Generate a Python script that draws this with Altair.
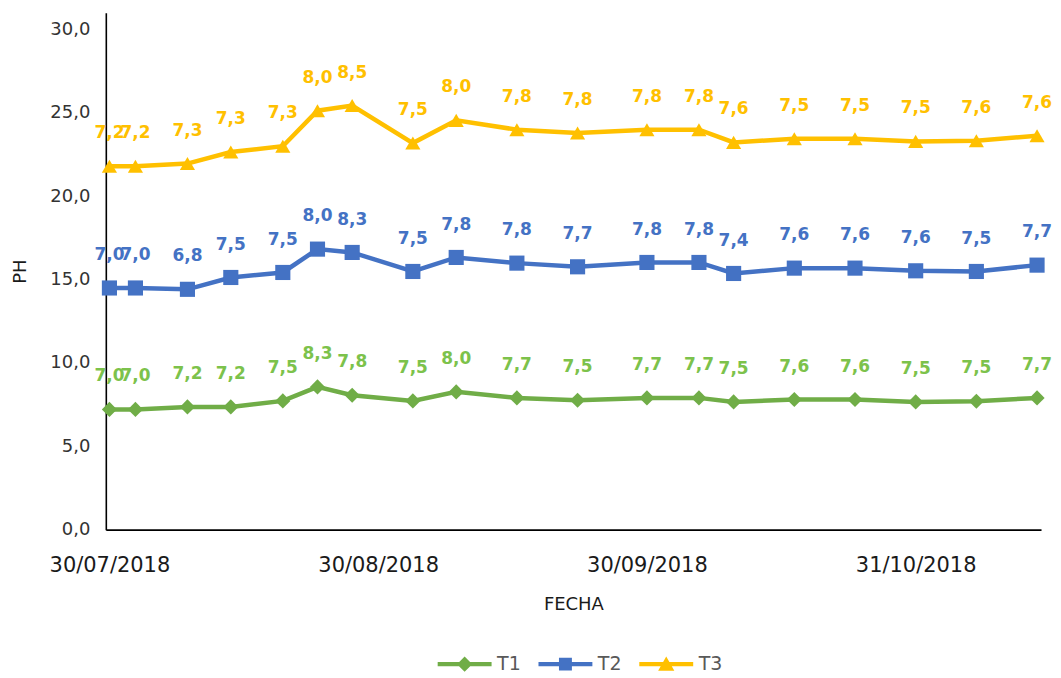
import altair as alt
import pandas as pd

# ---- data ----
dates = ["2018-07-30", "2018-08-02", "2018-08-08", "2018-08-13", "2018-08-19",
         "2018-08-23", "2018-08-27", "2018-09-03", "2018-09-08", "2018-09-15",
         "2018-09-22", "2018-09-30", "2018-10-06", "2018-10-10", "2018-10-17",
         "2018-10-24", "2018-10-31", "2018-11-07", "2018-11-14"]

# plotted (stacked) heights as drawn in the picture
t1_y = [7.21, 7.21, 7.36, 7.36, 7.72, 8.56, 8.06, 7.72, 8.26, 7.90,
        7.76, 7.90, 7.90, 7.66, 7.80, 7.80, 7.66, 7.70, 7.90]
t2_y = [14.49, 14.49, 14.41, 15.12, 15.42, 16.82, 16.62, 15.48, 16.32, 15.98,
        15.76, 16.02, 16.02, 15.36, 15.68, 15.68, 15.52, 15.48, 15.86]
t3_y = [21.79, 21.79, 21.95, 22.64, 22.99, 25.12, 25.43, 23.18, 24.54, 23.98,
        23.78, 23.98, 23.98, 23.22, 23.44, 23.44, 23.28, 23.32, 23.62]

# values shown in the data labels
t1_lbl = [7.0, 7.0, 7.2, 7.2, 7.5, 8.3, 7.8, 7.5, 8.0, 7.7,
          7.5, 7.7, 7.7, 7.5, 7.6, 7.6, 7.5, 7.5, 7.7]
t2_lbl = [7.0, 7.0, 6.8, 7.5, 7.5, 8.0, 8.3, 7.5, 7.8, 7.8,
          7.7, 7.8, 7.8, 7.4, 7.6, 7.6, 7.6, 7.5, 7.7]
t3_lbl = [7.2, 7.2, 7.3, 7.3, 7.3, 8.0, 8.5, 7.5, 8.0, 7.8,
          7.8, 7.8, 7.8, 7.6, 7.5, 7.5, 7.5, 7.6, 7.6]

series = ["T1", "T2", "T3"]
y_ticks = [0, 5, 10, 15, 20, 25, 30]

# ---- styling ----
line_colors = ["#70AD47", "#4472C4", "#FFC000"]
label_colors = ["#7CC24B", "#4472C4", "#FFC000"]
point_shapes = ["diamond", "square", "triangle-up"]
legend_shapes = [
    "M-3,-0.24H3V0.24H-3Z M0,-0.85L0.85,0L0,0.85L-0.85,0Z",
    "M-3,-0.24H3V0.24H-3Z M-0.72,-0.72H0.72V0.72H-0.72Z",
    "M-3,-0.24H3V0.24H-3Z M0,-0.85L0.9,0.75H-0.9Z",
]

rows = []
for s, ys, ls in zip(series, [t1_y, t2_y, t3_y], [t1_lbl, t2_lbl, t3_lbl]):
    for d, y, l in zip(dates, ys, ls):
        rows.append({"fecha": d + "T00:00:00", "series": s, "ph": y, "lbl": l})
df = pd.DataFrame(rows)

FONT = "DejaVu Sans"

x_enc = alt.X(
    "fecha:T",
    title="FECHA",
    scale=alt.Scale(domain=[alt.DateTime(year=2018, month=7, date=29, hours=14),
                            alt.DateTime(year=2018, month=11, date=14, hours=11)]),
    axis=alt.Axis(
        values=[alt.DateTime(year=2018, month=7, date=30),
                alt.DateTime(year=2018, month=8, date=30),
                alt.DateTime(year=2018, month=9, date=30),
                alt.DateTime(year=2018, month=10, date=31)],
        format="%d/%m/%Y", labelFont=FONT, labelFontSize=21, labelColor="#1a1a1a",
        labelPadding=25, ticks=False, grid=False, domainColor="#000000",
        domainWidth=1.6, titleFont=FONT, titleFontSize=18, titleFontWeight="normal",
        titleColor="#1a1a1a", titlePadding=20, labelFlush=False, labelOverlap=False,
    ),
)
y_enc = alt.Y(
    "ph:Q",
    title="PH",
    scale=alt.Scale(domain=[0, 31], nice=False, zero=True),
    axis=alt.Axis(
        values=y_ticks, labelExpr="replace(format(datum.value, '.1f'), '.', ',')",
        labelFont=FONT, labelFontSize=18, labelColor="#333333", labelPadding=16,
        ticks=False, grid=False, domainColor="#000000", domainWidth=1.6,
        titleFont=FONT, titleFontSize=18, titleFontWeight="normal",
        titleColor="#1a1a1a", titlePadding=20,
    ),
)

base = alt.Chart(df)

lines = base.mark_line(strokeWidth=4.5).encode(
    x=x_enc, y=y_enc,
    color=alt.Color("series:N", scale=alt.Scale(domain=series, range=line_colors), legend=None),
    detail="series:N",
)

points = base.mark_point(filled=True, opacity=1, size=230).encode(
    x=x_enc, y=y_enc,
    color=alt.Color("series:N", scale=alt.Scale(domain=series, range=line_colors), legend=None),
    shape=alt.Shape("series:N", scale=alt.Scale(domain=series, range=point_shapes), legend=None),
)

labels = base.transform_calculate(
    txt="replace(format(datum.lbl, '.1f'), '.', ',')"
).mark_text(dy=-33, font=FONT, fontSize=17, fontWeight="bold", baseline="middle").encode(
    x=x_enc, y=y_enc, text="txt:N",
    color=alt.Color("series:N", scale=alt.Scale(domain=series, range=label_colors), legend=None),
)

legend_props = dict(
    orient="none", legendX=332, legendY=643, direction="horizontal",
    title=None, symbolSize=324, symbolOffset=18, labelOffset=23,
    labelFont=FONT, labelFontSize=19, labelColor="#595959",
    columnPadding=17, symbolStrokeWidth=0,
)

legend_layer = alt.Chart(pd.DataFrame({"series": series})).transform_filter(
    "false"
).mark_point(filled=True, opacity=1).encode(
    color=alt.Color("series:N", scale=alt.Scale(domain=series, range=line_colors),
                    legend=alt.Legend(**legend_props)),
    shape=alt.Shape("series:N", scale=alt.Scale(domain=series, range=legend_shapes),
                    legend=alt.Legend(**legend_props)),
)

chart = alt.layer(lines, points, labels, legend_layer).resolve_scale(
    color="independent", shape="independent"
).properties(
    width=937, height=518,
    autosize=alt.AutoSizeParams(type="none"),
    padding={"left": 98, "top": 4, "right": 12, "bottom": 144},
    background="white",
).configure_view(stroke=None)

chart.save("out.html", embed_options={"renderer": "svg", "actions": False})
